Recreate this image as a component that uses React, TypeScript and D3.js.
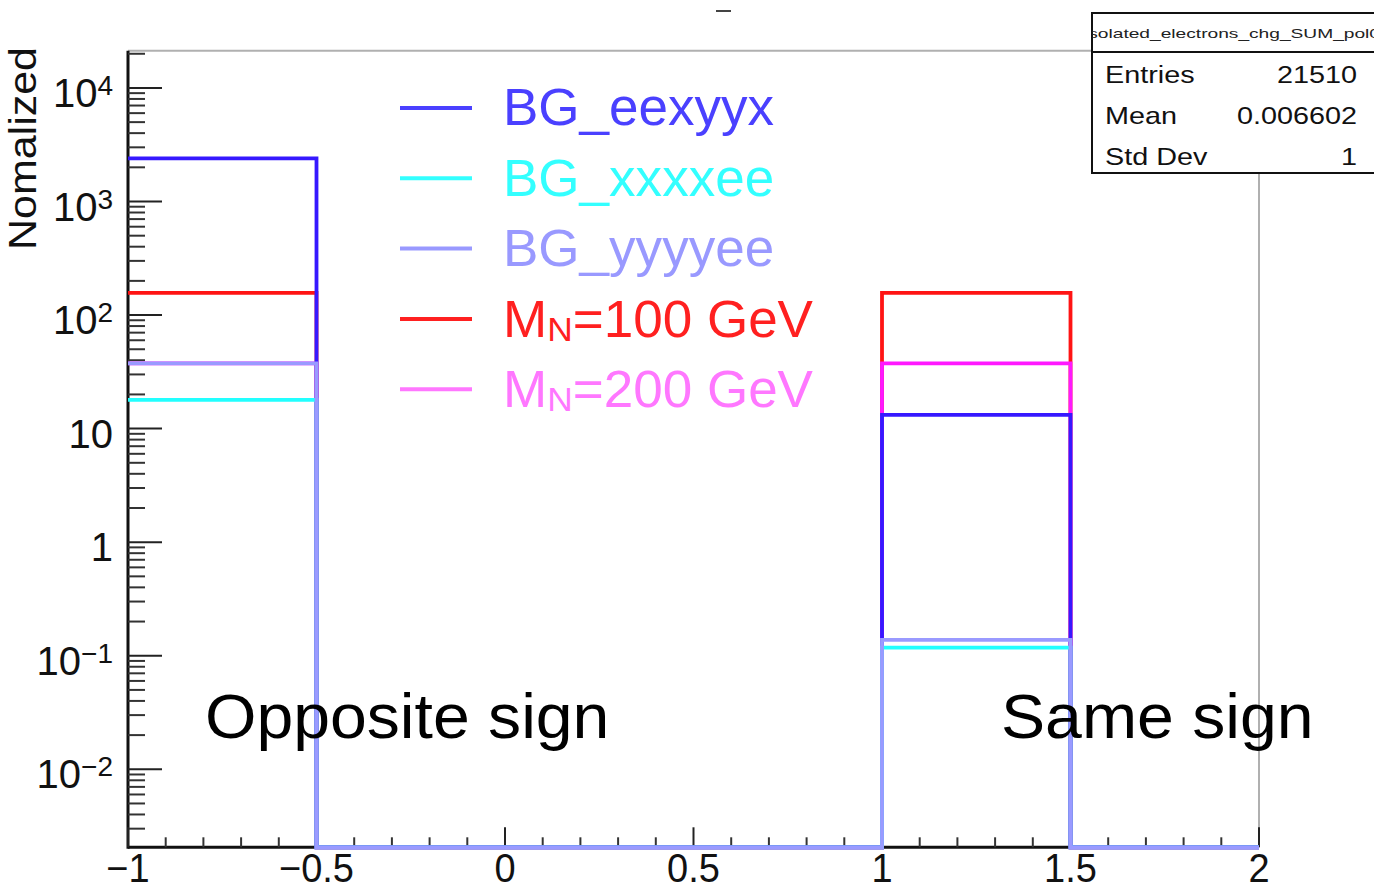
import React from "react";
import * as d3 from "d3";

const binEdges = [-1, -0.5, 0, 0.5, 1, 1.5, 2];
const xTickLabels = ["−1", "−0.5", "0", "0.5", "1", "1.5", "2"];
const seriesNames = ["BG_eexyyx", "BG_xxxxee", "BG_yyyyee", "M_N=100 GeV", "M_N=200 GeV"];
const eexyyx = [2400, 0, 0, 0, 13.2, 0];
const xxxxee = [17.9, 0, 0, 0, 0.118, 0];
const yyyyee = [37.6, 0, 0, 0, 0.138, 0];
const mn100 = [157, 0, 0, 0, 157, 0];
const mn200 = [37.5, 0, 0, 0, 37.5, 0];
const lineColors = ["#3618ff", "#22ffff", "#9a9aff", "#ff1414", "#ff18ff"];
const legendColors = ["#4a40ff", "#33ffff", "#9999ff", "#ff2020", "#ff77ff"];
const drawOrder = [3, 4, 0, 1, 2];
const yDecades = [-2, -1, 0, 1, 2, 3, 4];
const statsLabels = ["Entries", "Mean", "Std Dev"];
const statsValues = ["21510", "0.006602", "1"];
const statsTitle = "isolated_electrons_chg_SUM_pol0";
const regionLabels = ["Opposite sign", "Same sign"];

const allValues = [eexyyx, xxxxee, yyyyee, mn100, mn200];

const L = 128, R = 1259, T = 50.7, B = 847.3;
const FONT = "'Liberation Sans', Arial, Helvetica, sans-serif";

export default function App() {
  const x = d3.scaleLinear().domain([-1, 2]).range([L, R]);
  const y = d3.scaleLog().domain([Math.pow(10, -2.687), Math.pow(10, 4.328)]).range([B, T]);
  const [yMin] = y.domain();

  const histPath = (vals: number[]) => {
    const p = d3.path();
    const yy = (v: number) => y(Math.max(v, yMin));
    p.moveTo(x(binEdges[0]), yy(vals[0]));
    vals.forEach((v, i) => {
      p.lineTo(x(binEdges[i + 1]), yy(v));
      if (i + 1 < vals.length) p.lineTo(x(binEdges[i + 1]), yy(vals[i + 1]));
    });
    return p.toString();
  };

  const xMajor = d3.range(-1, 2.0001, 0.5);
  const xMinor = d3.range(-1, 2.0001, 0.1).filter((v) => Math.abs(v * 2 - Math.round(v * 2)) > 1e-6);
  const yMajor = yDecades.map((d) => Math.pow(10, d));
  const yMinor: number[] = [];
  for (let d = -3; d <= 4; d++) for (let m = 2; m <= 9; m++) {
    const v = m * Math.pow(10, d);
    if (v >= y.domain()[0] && v <= y.domain()[1]) yMinor.push(v);
  }

  const yLabel = (d: number) => {
    if (d === 0) return <tspan>1</tspan>;
    if (d === 1) return <tspan>10</tspan>;
    return (
      <>
        <tspan>10</tspan>
        <tspan fontSize={28} dy={-12}>{d < 0 ? "−" + Math.abs(d) : String(d)}</tspan>
      </>
    );
  };

  const legendLabel = (name: string) => {
    if (name.startsWith("M_N")) {
      const rest = name.slice(3);
      return (
        <>
          <tspan>M</tspan>
          <tspan fontSize={34} dy={4}>N</tspan>
          <tspan dy={-4}>{rest}</tspan>
        </>
      );
    }
    return <tspan>{name}</tspan>;
  };

  return (
    <svg width={1374} height={892} style={{ position: "absolute", left: 0, top: 0, background: "#fff" }} fontFamily={FONT}>
      <defs>
        <clipPath id="frame"><rect x={L} y={T} width={R - L} height={B - T + 4} /></clipPath>
        <clipPath id="stats"><rect x={1092} y={13} width={290} height={160} /></clipPath>
      </defs>
      <rect width={1374} height={892} fill="#fff" />
      {/* title remnant */}
      <line x1={716} x2={731} y1={11} y2={11} stroke="#444" strokeWidth={2} />
      {/* frame top / right */}
      <line x1={L} x2={R} y1={T} y2={T} stroke="#b0b0b0" strokeWidth={2} />
      <line x1={R} x2={R} y1={T} y2={B} stroke="#b0b0b0" strokeWidth={2} />
      {/* axes */}
      <line x1={L} x2={L} y1={T} y2={B + 1.5} stroke="#111" strokeWidth={3} />
      <line x1={L} x2={R} y1={B} y2={B} stroke="#111" strokeWidth={3} />
      {yMajor.map((v) => <line key={"ym" + v} x1={L} x2={L + 34} y1={y(v)} y2={y(v)} stroke="#222" strokeWidth={2} />)}
      {yMinor.map((v) => <line key={"yn" + v} x1={L} x2={L + 17} y1={y(v)} y2={y(v)} stroke="#333" strokeWidth={2} />)}
      {xMajor.map((v) => <line key={"xm" + v} x1={x(v)} x2={x(v)} y1={B} y2={B - 20} stroke="#222" strokeWidth={2} />)}
      {xMinor.map((v) => <line key={"xn" + v} x1={x(v)} x2={x(v)} y1={B} y2={B - 10} stroke="#333" strokeWidth={2} />)}
      {/* y labels */}
      {yDecades.map((d) => (
        <text key={"yl" + d} x={113} y={y(Math.pow(10, d)) + 19} fontSize={40} textAnchor="end" fill="#111">{yLabel(d)}</text>
      ))}
      {/* x labels */}
      {xMajor.map((v, i) => (
        <g key={"xl" + i} transform={`translate(${x(v)},882) scale(0.95,1)`}>
          <text x={0} y={0} fontSize={40} textAnchor="middle" fill="#111">{xTickLabels[i]}</text>
        </g>
      ))}
      {/* y title */}
      <text transform="translate(36,47) rotate(-90)" fontSize={38} textAnchor="end" fill="#111" textLength={203} lengthAdjust="spacingAndGlyphs">Nomalized</text>
      {/* histograms */}
      <g clipPath="url(#frame)">
        {drawOrder.map((i) => (
          <path key={"h" + i} d={histPath(allValues[i])} fill="none" stroke={lineColors[i]} strokeWidth={3.8} />
        ))}
      </g>
      {/* legend */}
      {seriesNames.map((n, i) => (
        <g key={"lg" + i}>
          <line x1={400} x2={472} y1={108 + i * 70.3} y2={108 + i * 70.3} stroke={legendColors[i]} strokeWidth={4} />
          <g transform={`translate(503,${125 + i * 70.5}) scale(1.04,1)`}>
            <text x={0} y={0} fontSize={51} fill={legendColors[i]}>{legendLabel(n)}</text>
          </g>
        </g>
      ))}
      {/* region labels */}
      <g transform="translate(205,738) scale(1.05,1)">
        <text x={0} y={0} fontSize={63} fill="#000">{regionLabels[0]}</text>
      </g>
      <g transform="translate(1001,738) scale(1.05,1)">
        <text x={0} y={0} fontSize={63} fill="#000">{regionLabels[1]}</text>
      </g>
      {/* stats box */}
      <rect x={1092} y={13} width={300} height={160} fill="#fff" stroke="#111" strokeWidth={2} />
      <line x1={1092} x2={1374} y1={52} y2={52} stroke="#111" strokeWidth={2} />
      <g clipPath="url(#stats)">
        <text x={1084} y={38} fontSize={13} fill="#222" textLength={296} lengthAdjust="spacingAndGlyphs">{statsTitle}</text>
      </g>
      {statsLabels.map((s, i) => (
        <g key={"sl" + i} transform={`translate(1105,${83 + i * 41}) scale(1.2,1)`}>
          <text x={0} y={0} fontSize={24} fill="#111">{s}</text>
        </g>
      ))}
      {statsValues.map((s, i) => (
        <g key={"sv" + i} transform={`translate(1357,${83 + i * 41}) scale(1.2,1)`}>
          <text x={0} y={0} fontSize={24} fill="#111" textAnchor="end">{s}</text>
        </g>
      ))}
    </svg>
  );
}
